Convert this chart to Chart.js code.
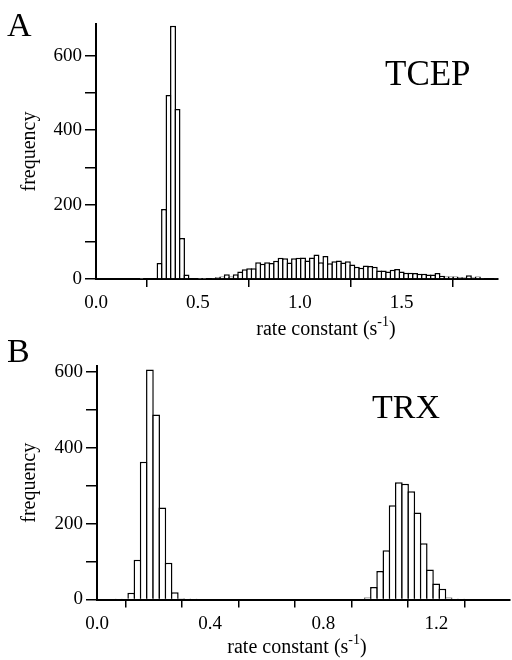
<!DOCTYPE html>
<html>
<head>
<meta charset="utf-8">
<script src="https://cdn.jsdelivr.net/npm/chart.js@4.4.1/dist/chart.umd.min.js"></script>
<style>
  html, body { margin: 0; padding: 0; background: #fff; }
  body { width: 512px; height: 660px; position: relative; overflow: hidden; font-family: 'Liberation Serif', 'Times New Roman', serif; color: #000; }
  .box { position: absolute; left: 0; width: 512px; }
  #boxA { top: 0; height: 340px; }
  #boxB { top: 340px; height: 320px; }
  .lbl { position: absolute; line-height: 1; white-space: nowrap; }
  .panel { font-size: 34px; left: 7px; }
  .name { font-size: 35px; }
  .xtitle { font-size: 20px; transform: translateX(-50%); }
  .xtitle sup { font-size: 14px; position: relative; top: -1px; }
</style>
</head>
<body>
<div class="box" id="boxA"><canvas id="chartA" width="512" height="340"></canvas></div>
<div class="box" id="boxB"><canvas id="chartB" width="512" height="320"></canvas></div>

<div class="lbl panel" style="top:8px;">A</div>
<div class="lbl name" style="left:385px; top:56px;">TCEP</div>
<div class="lbl xtitle" style="left:326px; top:316px;">rate constant (s<sup>-1</sup>)</div>

<div class="lbl panel" style="top:334px;">B</div>
<div class="lbl name" style="left:372px; top:390px; font-size:34px;">TRX</div>
<div class="lbl xtitle" style="left:297px; top:634px;">rate constant (s<sup>-1</sup>)</div>

<script>
// largura das classes do histograma (s^-1)
const binWidth = 0.022;

// TCEP: contagens por classe, a partir de tcepStart
const tcepStart = -0.007;
const tcepCounts = [
    0, 0, 0, 0, 0, 0, 0, 0, 0, 0,
    1, 2, 2, 0,
    43, 188, 494, 680, 457, 110, 12, 2,
    0, 1, 1, 2, 3, 5, 7, 13, 7, 13, 20, 26, 29, 29,
    45, 41, 45, 43, 49, 57, 56, 44, 56, 57, 58, 50, 58, 66,
    45, 62, 42, 48, 50, 44, 48, 39, 33, 30, 36, 35, 33, 23,
    23, 20, 25, 27, 20, 17, 17, 16, 14, 14, 12, 12, 16, 9,
    7, 7, 7, 5, 4, 10, 4, 7, 3, 2, 2, 3
];

// TRX: contagens por classe, a partir de trxStart
const trxStart = 0;
const trxCounts = [
    0, 0, 0, 1, 2, 18, 105, 363, 606, 487, 242, 97, 19, 3, 1, 1,
    0, 0, 0, 0, 0, 0, 0, 0, 0, 0, 0, 0, 0, 0, 0, 0, 0, 0, 0, 0, 0, 0, 0, 0, 0, 0,
    2, 5, 33, 75, 130, 248, 309, 305, 285, 229, 148, 79, 42, 28, 5, 1, 1,
    0, 0, 0, 0, 0, 0, 0, 0
];

// marcas dos eixos
const tcepXTicks = [0, 0.5, 1.0, 1.5];
const tcepXLabels = ['0.0', '0.5', '1.0', '1.5'];
const trxXTicks = [0, 0.2, 0.4, 0.6, 0.8, 1.0, 1.2, 1.4];
const trxXLabels = ['0.0', '', '0.4', '', '0.8', '', '1.2', ''];
const yTicks = [0, 100, 200, 300, 400, 500, 600];
const yLabels = ['0', '', '200', '', '400', '', '600'];

const tickFont = { family: "'Liberation Serif', 'Times New Roman', serif", size: 19 };
const lineW = 1.5;

function toPoints(counts, start) {
    return counts.map((c, i) => ({ x: start + (i + 0.5) * binWidth, y: c }));
}

function makeHistogram(canvasId, counts, start, cfg) {
    const ctx = document.getElementById(canvasId).getContext('2d');
    // barras vizinhas se sobrepõem de uma largura de traço, para a divisória ficar simples
    const binPx = binWidth * (512 - cfg.yWidth - cfg.padding.right) / cfg.xMax;
    return new Chart(ctx, {
        type: 'bar',
        data: {
            datasets: [{
                data: toPoints(counts, start),
                backgroundColor: '#ffffff',
                borderColor: '#000000',
                borderWidth: { top: lineW, left: lineW, right: lineW, bottom: 0 },
                borderSkipped: 'start',
                barPercentage: 1 + lineW / binPx,
                categoryPercentage: 1
            }]
        },
        options: {
            responsive: false,
            animation: false,
            devicePixelRatio: 1,
            layout: { padding: cfg.padding },
            plugins: { legend: { display: false }, tooltip: { enabled: false } },
            scales: {
                x: {
                    type: 'linear',
                    min: 0,
                    max: cfg.xMax,
                    offset: false,
                    afterFit: s => { s.height = cfg.xHeight; },
                    afterBuildTicks: s => { s.ticks = cfg.xTicks.map(v => ({ value: v })); },
                    border: { display: true, color: '#000', width: 2 },
                    grid: { drawOnChartArea: false, drawTicks: true, tickLength: 8, color: '#000', lineWidth: 1.5 },
                    ticks: {
                        color: '#000',
                        font: tickFont,
                        padding: 5,
                        maxRotation: 0,
                        autoSkip: false,
                        callback: (v, i) => cfg.xLabels[i]
                    }
                },
                y: {
                    min: 0,
                    max: cfg.yMax,
                    afterFit: s => { s.width = cfg.yWidth; },
                    afterBuildTicks: s => { s.ticks = yTicks.map(v => ({ value: v })); },
                    border: { display: true, color: '#000', width: 2 },
                    grid: { drawOnChartArea: false, drawTicks: true, tickLength: 11, color: '#000', lineWidth: 1.5 },
                    ticks: {
                        color: '#000',
                        font: tickFont,
                        padding: 3,
                        autoSkip: false,
                        callback: (v, i) => yLabels[i]
                    },
                    title: {
                        display: true,
                        text: 'frequency',
                        color: '#000',
                        font: { family: tickFont.family, size: 20 },
                        padding: { top: 18, bottom: 0 }
                    }
                }
            }
        }
    });
}

makeHistogram('chartA', tcepCounts, tcepStart, {
    padding: { top: 24, right: 14, left: 0, bottom: 0 },
    xMax: 1.973, yMax: 685,
    xHeight: 61, yWidth: 96,
    xTicks: tcepXTicks, xLabels: tcepXLabels
});

makeHistogram('chartB', trxCounts, trxStart, {
    padding: { top: 26, right: 2, left: 0, bottom: 0 },
    xMax: 1.46, yMax: 615,
    xHeight: 60.5, yWidth: 97,
    xTicks: trxXTicks, xLabels: trxXLabels
});
</script>
</body>
</html>
